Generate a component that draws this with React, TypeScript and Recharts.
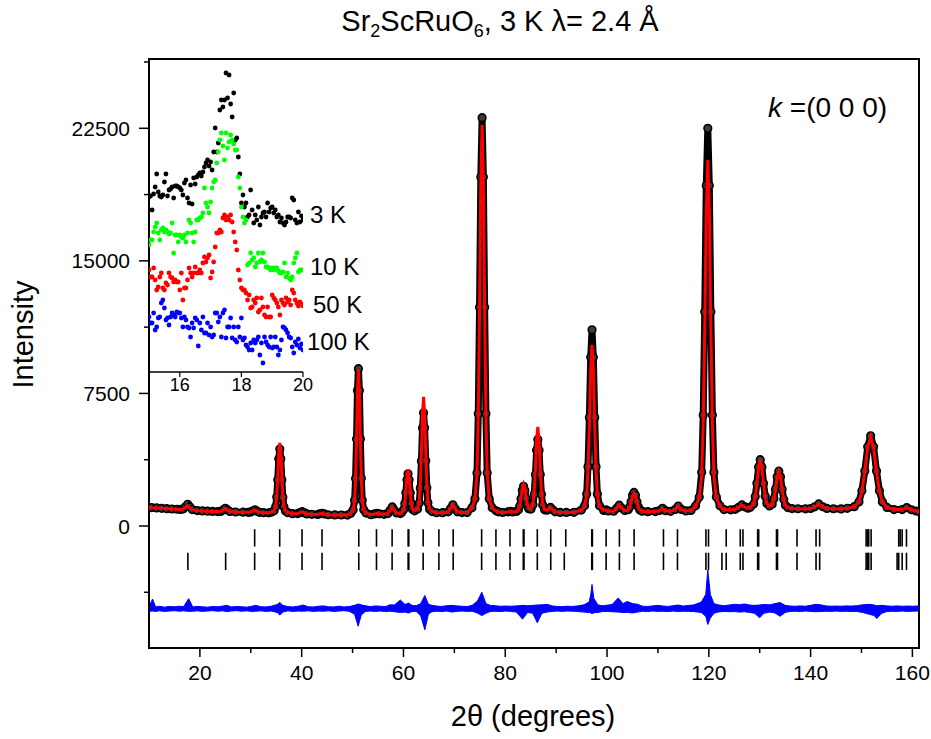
import React from 'react';
import {
  ComposedChart,
  ScatterChart,
  Line,
  Area,
  Scatter,
  XAxis,
  YAxis,
  ReferenceArea,
} from 'recharts';

// 2theta, observed, calculated
const profile: [number, number, number][] = [
  [10, 1060, 1055], [10.5, 1040, 1036], [11.5, 1020, 1018], [12.5, 1000, 998],
  [13.5, 980, 979], [14.5, 962, 960], [15.5, 948, 946], [16.2, 938, 935],
  [16.7, 961, 953], [17.15, 1090, 1047], [17.6, 1230, 1150], [18.05, 1080, 1037],
  [18.5, 931, 923], [19.5, 872, 870], [20.5, 852, 850], [21.5, 838, 836],
  [22.5, 825, 824], [23.5, 815, 814], [24.1, 827, 826], [24.55, 911, 908],
  [25.0, 1000, 995], [25.45, 908, 905], [25.9, 819, 818], [27.0, 793, 792],
  [28.5, 782, 781], [29.5, 774, 773], [29.9, 785, 784], [30.35, 845, 843],
  [30.8, 910, 905], [31.25, 841, 839], [31.7, 776, 775], [32.5, 756, 756],
  [33.5, 748, 747], [34.1, 787, 792], [34.58, 867, 879], [34.9, 1100, 1135],
  [35.1, 1640, 1728], [35.3, 2615, 2797], [35.5, 3808, 4105], [35.7, 4350, 4700],
  [35.9, 3806, 4103], [36.1, 2611, 2793], [36.3, 1632, 1720], [36.5, 1088, 1123],
  [36.82, 847, 859], [37.3, 755, 760], [38.2, 698, 697], [39.2, 701, 700],
  [39.65, 754, 752], [40.1, 810, 800], [40.55, 746, 744], [41.0, 683, 682],
  [42.0, 660, 660], [43.1, 651, 650], [43.55, 688, 686], [44.0, 720, 715],
  [44.45, 681, 680], [45.2, 636, 636], [46.5, 628, 628], [47.8, 621, 621],
  [49.0, 620, 620], [49.65, 719, 719], [50.1, 912, 910], [50.4, 1451, 1446],
  [50.59, 2693, 2680], [50.78, 4927, 4901], [50.96, 7659, 7616], [51.15, 8900, 8850],
  [51.34, 7660, 7618], [51.53, 4929, 4903], [51.72, 2696, 2683], [51.9, 1455, 1450],
  [52.2, 919, 917], [52.65, 731, 730], [53.6, 638, 638], [54.35, 683, 682],
  [54.8, 718, 716], [55.25, 690, 689], [56.2, 662, 662], [56.95, 713, 711],
  [57.37, 885, 875], [57.8, 1080, 1060], [58.23, 896, 886], [58.65, 736, 734],
  [59.4, 704, 704], [59.71, 785, 792], [60.05, 934, 954], [60.26, 1271, 1321],
  [60.47, 1875, 1979], [60.69, 2614, 2784], [60.9, 2950, 3150], [61.11, 2616, 2786],
  [61.33, 1879, 1983], [61.54, 1278, 1328], [61.75, 946, 966], [62.2, 857, 873],
  [62.76, 955, 989], [63.1, 1302, 1392], [63.31, 2152, 2377], [63.53, 3681, 4149],
  [63.74, 5550, 6315], [63.95, 6400, 7300], [64.16, 5552, 6317], [64.38, 3685, 4153],
  [64.59, 2158, 2383], [64.8, 1310, 1400], [65.14, 943, 975], [65.65, 815, 826],
  [66.5, 751, 751], [67.7, 755, 755], [68.8, 802, 804], [69.25, 988, 998],
  [69.7, 1200, 1220], [70.15, 989, 999], [70.6, 804, 806], [71.5, 760, 760],
  [72.5, 760, 760], [73.45, 1030, 1025], [74.05, 1544, 1530], [74.45, 2996, 2956],
  [74.7, 6347, 6247], [74.95, 12378, 12170], [75.2, 19749, 19409], [75.45, 23100, 22700],
  [75.7, 19749, 19409], [75.95, 12378, 12170], [76.2, 6347, 6247], [76.45, 2996, 2956],
  [76.85, 1544, 1530], [77.45, 1030, 1025], [78.2, 860, 855], [78.65, 800, 798],
  [79.5, 765, 764], [80.55, 800, 798], [81.0, 833, 828], [81.45, 798, 796],
  [82.2, 820, 823], [82.6, 916, 926], [82.85, 1138, 1164], [83.1, 1539, 1591],
  [83.35, 2028, 2113], [83.6, 2250, 2350], [83.85, 2028, 2113], [84.1, 1539, 1591],
  [84.35, 1179, 1212], [84.6, 974, 993], [85.07, 959, 986], [85.45, 1205, 1277],
  [85.69, 1803, 1978], [85.93, 2918, 3282], [86.16, 4281, 4876], [86.4, 4900, 5600],
  [86.64, 4281, 4876], [86.88, 2918, 3282], [87.11, 1803, 1978], [87.35, 1183, 1253],
  [87.73, 915, 939], [88.2, 897, 905], [88.45, 930, 935], [88.9, 1050, 1050],
  [89.35, 920, 918], [89.8, 800, 800], [90.8, 770, 770], [92.0, 770, 770],
  [93.5, 772, 772], [94.95, 902, 892], [95.58, 1139, 1110], [96.0, 1810, 1725],
  [96.26, 3359, 3146], [96.53, 6145, 5703], [96.79, 9552, 8829], [97.05, 11100, 10250],
  [97.31, 9552, 8829], [97.58, 6145, 5703], [97.84, 3359, 3146], [98.1, 1810, 1725],
  [98.52, 1139, 1110], [99.35, 880, 876], [99.8, 920, 915], [100.25, 850, 848],
  [101.3, 834, 832], [101.85, 995, 990], [102.4, 1180, 1190], [102.95, 998, 1000],
  [103.5, 870, 872], [104.15, 918, 913], [104.44, 1075, 1063], [104.72, 1372, 1346],
  [105.01, 1735, 1693], [105.3, 1900, 1850], [105.59, 1735, 1693], [105.88, 1372, 1346],
  [106.16, 1075, 1063], [106.45, 910, 905], [106.9, 838, 836], [108.0, 810, 810],
  [109.5, 815, 815], [110.3, 870, 866], [110.9, 1000, 990], [111.5, 868, 864],
  [112.5, 830, 830], [113.4, 935, 930], [114.0, 1130, 1130], [114.6, 940, 938],
  [115.5, 855, 855], [116.5, 880, 878], [117.4, 1139, 1118], [118.12, 1637, 1574],
  [118.6, 3042, 2862], [118.9, 6285, 5835], [119.2, 12122, 11186], [119.5, 19257, 17727],
  [119.8, 22500, 20700], [120.1, 19257, 17727], [120.4, 12122, 11186], [120.7, 6285, 5835],
  [121.0, 3042, 2862], [121.48, 1637, 1574], [122.2, 1139, 1118], [123.0, 930, 928],
  [124.3, 915, 913], [125.2, 945, 942], [125.85, 1060, 1055], [126.5, 1190, 1170],
  [127.15, 1080, 1070], [127.7, 1010, 1005], [128.15, 1060, 1055], [128.8, 1240, 1235],
  [129.12, 1665, 1655], [129.45, 2420, 2405], [129.78, 3340, 3320], [130.1, 3750, 3730],
  [130.43, 3340, 3320], [130.75, 2420, 2405], [131.08, 1690, 1680], [131.4, 1280, 1275],
  [131.92, 1135, 1130], [132.45, 1225, 1220], [132.78, 1535, 1525], [133.1, 2085, 2070],
  [133.43, 2790, 2765], [133.75, 3100, 3070], [134.08, 2790, 2765], [134.4, 2085, 2070],
  [134.73, 1500, 1490], [135.05, 1175, 1170], [135.57, 1035, 1035], [136.35, 985, 985],
  [137.5, 975, 972], [139.0, 970, 968], [140.0, 990, 988], [140.8, 1085, 1080],
  [141.6, 1250, 1240], [142.4, 1090, 1085], [143.2, 995, 992], [144.5, 975, 975],
  [146.0, 965, 965], [147.2, 1000, 999], [148.58, 1095, 1094], [149.5, 1365, 1360],
  [150.08, 1988, 1975], [150.65, 3108, 3082], [151.22, 4478, 4435], [151.8, 5100, 5050],
  [152.38, 4478, 4435], [152.95, 3108, 3082], [153.52, 1988, 1975], [154.1, 1365, 1360],
  [155.02, 1050, 1048], [156.4, 930, 930], [158.0, 930, 928], [158.9, 1040, 1035],
  [159.8, 920, 918], [160.7, 850, 850], [161.3, 820, 820],
];

// reflection positions, two phases
const braggPhase1 = [
  30.76, 35.68, 40.07, 44.0, 51.22, 54.7, 57.77, 60.92, 61.05, 63.87, 66.96, 69.77,
  75.36, 78.17, 80.93, 83.55, 83.68, 86.3, 88.94, 91.89, 97.0, 97.12, 99.82, 102.43,
  105.32, 111.09, 113.84, 119.43, 119.94, 123.42, 126.18, 126.71, 129.6, 129.8,
  133.3, 133.5, 137.33, 141.07, 141.78, 150.91, 151.2, 151.42, 151.89, 157.32,
  157.6, 157.99, 158.84,
];
const braggPhase2 = [
  17.64, 25.06, 30.76, 35.68, 40.07, 44.0, 51.22, 54.7, 57.77, 60.92, 61.05, 63.87,
  66.96, 69.77, 75.36, 78.17, 80.93, 83.55, 83.68, 86.3, 88.94, 91.6, 97.0, 97.12,
  99.82, 102.43, 105.32, 111.09, 113.84, 119.43, 119.94, 122.58, 123.42, 126.18,
  126.71, 129.6, 129.8, 133.3, 133.5, 137.33, 141.07, 141.78, 150.91, 151.2,
  151.42, 151.89, 157.0, 157.32, 157.99, 158.84,
];

// obs - calc envelope: 2theta, low, high
const diffEnvelope: [number, number, number][] = [
  [10, -130, 120], [10.7, -120, 560], [11.3, -140, 110], [12, -110, 150],
  [13, -140, 100], [14, -120, 140], [15, -100, 120], [16, -130, 150],
  [16.8, -110, 130], [17.8, -140, 580], [18.6, -130, 110], [19.5, -110, 140],
  [20.5, -140, 120], [21.5, -120, 100], [22.5, -100, 140], [23.5, -130, 120],
  [24.5, -110, 160], [25.3, -150, 200], [26.2, -120, 110], [27.2, -100, 140],
  [28.2, -130, 120], [29.2, -110, 100], [30.2, -140, 150], [31, -130, 200],
  [32, -110, 120], [33, -140, 110], [34, -120, 150], [35.2, -200, 250],
  [35.7, -350, 360], [36.3, -180, 200], [37.3, -110, 130], [38.3, -140, 110],
  [39.3, -120, 150], [40.3, -130, 220], [41.3, -110, 120], [42.3, -140, 110],
  [43.3, -120, 150], [44.3, -130, 170], [45.3, -110, 120], [46.3, -140, 110],
  [47.3, -120, 150], [48.3, -100, 110], [49.3, -130, 130], [50.4, -300, 200],
  [51.1, -980, 280], [51.7, -350, 230], [52.5, -150, 180], [53.5, -120, 130],
  [54.5, -140, 170], [55.5, -120, 150], [56.5, -150, 130], [57.3, -130, 230],
  [58.2, -160, 220], [59.4, -200, 500], [60.3, -180, 250], [61, -230, 330],
  [61.7, -150, 200], [62.5, -140, 180], [63.4, -400, 300], [64.2, -1180, 760],
  [64.9, -300, 260], [65.6, -160, 200], [66.5, -130, 160], [67.5, -150, 140],
  [68.5, -120, 180], [69.5, -180, 200], [70.5, -140, 170], [71.5, -120, 150],
  [72.5, -140, 130], [73.5, -130, 200], [74.5, -230, 430], [75.4, -380, 940],
  [76.2, -250, 300], [77, -150, 200], [78, -130, 180], [79, -150, 150],
  [80, -120, 160], [81, -140, 150], [82.2, -180, 170], [83.4, -580, 200],
  [84.4, -200, 180], [85.4, -250, 200], [86.3, -780, 220], [87.2, -250, 230],
  [88.2, -180, 260], [89.2, -140, 170], [90.2, -120, 140], [91.2, -140, 130],
  [92.2, -120, 150], [93.2, -130, 140], [94.2, -150, 170], [95.5, -180, 230],
  [96.5, -200, 400], [96.8, -220, 800], [97.05, -280, 1380], [97.4, -220, 600],
  [98.2, -200, 230], [99.1, -150, 180], [100, -140, 210], [101, -160, 250],
  [102.2, -180, 620], [103.1, -200, 300], [104, -200, 420], [105, -230, 300],
  [106, -180, 260], [107, -130, 150], [108, -150, 140], [109, -120, 170],
  [110, -140, 200], [111, -130, 160], [112, -150, 140], [113, -120, 180],
  [114, -150, 220], [115, -130, 160], [116, -140, 200], [117, -150, 220],
  [118.5, -200, 380], [119.4, -420, 820], [119.8, -880, 2200], [120.3, -520, 820],
  [121, -250, 300], [121.8, -180, 230], [123, -140, 180], [124, -160, 220],
  [125, -150, 260], [126, -180, 240], [127, -160, 280], [128, -200, 220],
  [129, -250, 200], [130, -500, 220], [130.8, -250, 250], [132, -180, 230],
  [133, -230, 300], [134, -420, 360], [135, -200, 200], [136, -140, 160],
  [137, -130, 150], [138, -150, 170], [139, -120, 150], [140, -140, 200],
  [141, -160, 260], [142, -150, 230], [143, -130, 170], [144, -140, 150],
  [145, -120, 160], [146, -140, 150], [147, -130, 170], [148, -150, 160],
  [149, -140, 180], [150.2, -200, 230], [151.5, -300, 260], [152.5, -380, 220],
  [153, -540, 180], [154, -250, 200], [155, -150, 170], [156, -130, 150],
  [157, -140, 170], [158, -120, 150], [159, -140, 160], [160, -130, 150],
  [161.3, -120, 170],
];

// inset: 15 to 20 deg in 0.05 deg steps, arbitrary offset intensity
const insetStart = 15;
const insetStep = 0.05;
const inset3K = [
  175, 176, 162, 178, 185, 198, 180, 176, 175, 177,
  190, 198, 176, 182, 183, 185, 174, 186, 186, 185,
  184, 182, 177, 189, 192, 174, 169, 187, 168, 194,
  188, 195, 197, 199, 196, 200, 205, 209, 212, 206,
  210, 202, 220, 244, 220, 229, 262, 272, 265, 272,
  299, 274, 297, 268, 255, 279, 232, 234, 215, 198,
  169, 177, 165, 169, 155, 157, 182, 162, 149, 157,
  152, 165, 147, 155, 159, 160, 155, 169, 160, 164,
  165, 159, 162, 155, 157, 150, 154, 149, 147, 150,
  155, 155, 154, 174, 172, 152, 149, 160, 150, 156, 152,
];
const inset10K = [
  127, 132, 132, 140, 145, 149, 139, 132, 142, 144,
  140, 142, 140, 138, 139, 149, 119, 137, 137, 130,
  137, 135, 134, 137, 130, 139, 152, 149, 139, 130,
  140, 152, 152, 154, 155, 159, 184, 169, 165, 159,
  170, 184, 190, 192, 209, 220, 232, 239, 226, 212,
  239, 224, 230, 237, 232, 228, 222, 222, 195, 184,
  165, 155, 149, 152, 107, 109, 119, 112, 114, 105,
  109, 119, 110, 112, 119, 110, 105, 105, 104, 102,
  104, 102, 104, 104, 101, 99, 99, 100, 109, 95,
  99, 94, 92, 95, 109, 114, 119, 100, 102, 102, 102,
];
const inset50K = [
  102, 95, 95, 104, 92, 82, 85, 95, 99, 84,
  82, 89, 87, 99, 95, 94, 90, 92, 90, 90,
  82, 99, 72, 84, 84, 92, 104, 99, 95, 99,
  105, 99, 99, 102, 99, 109, 115, 110, 114, 117,
  94, 100, 110, 125, 139, 139, 142, 140, 154, 157,
  152, 155, 152, 157, 150, 140, 130, 122, 102, 92,
  84, 82, 82, 79, 72, 77, 64, 65, 72, 69,
  74, 60, 62, 74, 65, 57, 55, 65, 55, 55,
  77, 74, 72, 69, 65, 57, 72, 69, 67, 74,
  70, 72, 67, 82, 79, 72, 69, 66, 70, 68, 66,
];
const inset100K = [
  55, 49, 49, 59, 42, 45, 54, 55, 69, 72,
  64, 52, 54, 47, 55, 59, 57, 55, 60, 59,
  59, 54, 45, 55, 52, 45, 44, 35, 49, 44,
  54, 52, 26, 49, 42, 55, 39, 39, 49, 37,
  45, 35, 37, 59, 59, 50, 55, 35, 59, 62,
  34, 45, 45, 54, 34, 45, 32, 30, 45, 35,
  54, 32, 34, 27, 25, 22, 29, 22, 32, 29,
  32, 35, 17, 29, 9, 35, 30, 27, 25, 35,
  24, 25, 35, 25, 17, 22, 32, 45, 44, 42,
  39, 35, 34, 25, 19, 30, 27, 33, 24, 28, 22,
];

const xTicks = [20, 30, 40, 50, 60, 70, 80, 90, 100, 110, 120, 130, 140, 150, 160];
const xMajor = [20, 40, 60, 80, 100, 120, 140, 160];
const yTicks = [-3750, 0, 3750, 7500, 11250, 15000, 18750, 22500, 26250];
const yMajor = [0, 7500, 15000, 22500];
const insetTicks = [16, 18, 20];

const X_DOMAIN: [number, number] = [10, 161.3];
const Y_DOMAIN: [number, number] = [-6902, 26420];
const DIFF_OFFSET = -4690;
const BRAGG_LEVEL_1 = -673;
const BRAGG_LEVEL_2 = -2003;
// plot box: left 149, top 59, right 919, bottom 648
const MARGIN = { top: 59, right: 12, bottom: 51, left: 89 };
const OVERLAY_MARGIN = { top: 59, right: 12, bottom: 91, left: 149 };

const FONT = '"Liberation Sans", Arial, Helvetica, sans-serif';

const obsData = profile.map(([tth, obs, calc]) => ({ tth, obs, calc }));
const diffData = diffEnvelope.map(([tth, lo, hi]) => ({
  tth,
  band: [lo + DIFF_OFFSET, hi + DIFF_OFFSET],
}));
const bragg1Data = braggPhase1.map((tth) => ({ tth, level: BRAGG_LEVEL_1 }));
const bragg2Data = braggPhase2.map((tth) => ({ tth, level: BRAGG_LEVEL_2 }));
const toInset = (vals: number[]) =>
  vals.map((v, i) => ({ tth: +(insetStart + i * insetStep).toFixed(2), v }));

const MainXTick = (props: any) => {
  const { x, y, payload } = props;
  const major = xMajor.includes(payload.value);
  return (
    <g>
      <line x1={x} x2={x} y1={y} y2={y + (major ? 9 : 5)} stroke="#000" strokeWidth={1.5} />
      {major && (
        <text x={x} y={y + 31.5} textAnchor="middle" fontSize={21} fontFamily={FONT} fill="#000">
          {payload.value}
        </text>
      )}
    </g>
  );
};

const MainYTick = (props: any) => {
  const { x, y, payload } = props;
  const major = yMajor.includes(payload.value);
  return (
    <g>
      <line x1={x} x2={x - (major ? 10 : 5)} y1={y} y2={y} stroke="#000" strokeWidth={1.5} />
      {major && (
        <text x={x - 19} y={y + 7.5} textAnchor="end" fontSize={21} fontFamily={FONT} fill="#000">
          {payload.value}
        </text>
      )}
    </g>
  );
};

const InsetXTick = (props: any) => {
  const { x, y, payload } = props;
  return (
    <g>
      <line x1={x} x2={x} y1={y} y2={y + 5} stroke="#000" strokeWidth={1.2} />
      <text x={x} y={y + 19} textAnchor="middle" fontSize={18} fontFamily={FONT} fill="#000">
        {payload.value}
      </text>
    </g>
  );
};

const BraggMark = (props: any) => (
  <line x1={props.cx} x2={props.cx} y1={props.cy - 8.7} y2={props.cy + 8.7} stroke="#000" strokeWidth={1.6} />
);

const dotShape = (color: string) => (props: any) => (
  <circle cx={props.cx} cy={props.cy} r={2.4} fill={color} />
);

const sub: React.CSSProperties = { fontSize: '0.62em', verticalAlign: '-0.32em', lineHeight: 0 };
const textBase: React.CSSProperties = { position: 'absolute', fontFamily: FONT, color: '#000', whiteSpace: 'nowrap' };
const layer: React.CSSProperties = { position: 'absolute', left: 0, top: 0, pointerEvents: 'none' };

export default function App() {
  return (
    <div style={{ position: 'absolute', left: 0, top: 0, width: 931, height: 739, background: '#fff' }}>
      <div style={layer}>
        <ComposedChart width={931} height={739} margin={MARGIN}>
          <XAxis
            type="number"
            dataKey="tth"
            domain={X_DOMAIN}
            allowDataOverflow
            ticks={xTicks}
            interval={0}
            height={40}
            tickSize={0}
            tickMargin={0}
            tickLine={false}
            tick={(p: any) => <MainXTick {...p} />}
            axisLine={{ stroke: '#000', strokeWidth: 2 }}
          />
          <YAxis
            type="number"
            domain={Y_DOMAIN}
            allowDataOverflow
            ticks={yTicks}
            interval={0}
            width={60}
            tickSize={0}
            tickMargin={0}
            tickLine={false}
            tick={(p: any) => <MainYTick {...p} />}
            axisLine={{ stroke: '#000', strokeWidth: 2 }}
          />
          <ReferenceArea
            x1={X_DOMAIN[0]}
            x2={X_DOMAIN[1]}
            y1={Y_DOMAIN[0]}
            y2={Y_DOMAIN[1]}
            fill="none"
            stroke="#000"
            strokeWidth={2}
          />
          <Area
            data={diffData}
            dataKey="band"
            type="linear"
            stroke="#0000ff"
            strokeWidth={1}
            fill="#0000ff"
            fillOpacity={1}
            isAnimationActive={false}
          />
          <Scatter data={bragg1Data} dataKey="level" shape={<BraggMark />} isAnimationActive={false} />
          <Scatter data={bragg2Data} dataKey="level" shape={<BraggMark />} isAnimationActive={false} />
          <Line
            data={obsData}
            dataKey="obs"
            type="linear"
            stroke="#000"
            strokeWidth={7}
            strokeLinejoin="round"
            dot={{ r: 3.8, fill: '#3c3c3c', stroke: '#000', strokeWidth: 1.6 }}
            activeDot={false}
            isAnimationActive={false}
          />
        </ComposedChart>
      </div>

      {/* calculated profile drawn on its own layer so it sits above the observed markers */}
      <div style={layer}>
        <ComposedChart width={931} height={739} margin={OVERLAY_MARGIN}>
          <XAxis type="number" dataKey="tth" domain={X_DOMAIN} allowDataOverflow hide />
          <YAxis type="number" domain={Y_DOMAIN} allowDataOverflow hide />
          <Line
            data={obsData}
            dataKey="calc"
            type="linear"
            stroke="#ff0000"
            strokeWidth={3}
            dot={false}
            activeDot={false}
            isAnimationActive={false}
          />
        </ComposedChart>
      </div>

      <div style={{ ...layer, left: 149, top: 60 }}>
        <ScatterChart width={175} height={340} margin={{ top: 0, right: 21, bottom: 0, left: 0 }} style={{ overflow: 'visible' }}>
          <XAxis
            type="number"
            dataKey="tth"
            domain={[15, 20]}
            allowDataOverflow
            ticks={insetTicks}
            interval={0}
            height={28}
            tickSize={0}
            tickMargin={0}
            tickLine={false}
            tick={(p: any) => <InsetXTick {...p} />}
            axisLine={{ stroke: '#000', strokeWidth: 1.5 }}
          />
          <YAxis type="number" dataKey="v" domain={[0, 312]} hide />
          <Scatter data={toInset(inset3K)} dataKey="v" shape={dotShape('#000000')} isAnimationActive={false} />
          <Scatter data={toInset(inset10K)} dataKey="v" shape={dotShape('#00ff00')} isAnimationActive={false} />
          <Scatter data={toInset(inset50K)} dataKey="v" shape={dotShape('#ff0000')} isAnimationActive={false} />
          <Scatter data={toInset(inset100K)} dataKey="v" shape={dotShape('#0000ff')} isAnimationActive={false} />
        </ScatterChart>
      </div>

      <div style={{ ...textBase, left: 250, top: 7, width: 500, textAlign: 'center', fontSize: 29, lineHeight: '29px' }}>
        Sr<span style={sub}>2</span>ScRuO<span style={sub}>6</span>, 3 K λ= 2.4 Å
      </div>
      <div style={{ ...textBase, left: 768, top: 94, fontSize: 28, lineHeight: '28px' }}>
        <i>k</i> =(0 0 0)
      </div>
      <div style={{ ...textBase, left: 310, top: 203, fontSize: 24, lineHeight: '24px' }}>3 K</div>
      <div style={{ ...textBase, left: 310, top: 255, fontSize: 24, lineHeight: '24px' }}>10 K</div>
      <div style={{ ...textBase, left: 313, top: 293, fontSize: 24, lineHeight: '24px' }}>50 K</div>
      <div style={{ ...textBase, left: 307, top: 330, fontSize: 24, lineHeight: '24px' }}>100 K</div>
      <div
        style={{
          ...textBase,
          left: -77,
          top: 320,
          width: 200,
          textAlign: 'center',
          fontSize: 29,
          lineHeight: '29px',
          transform: 'rotate(-90deg)',
        }}
      >
        Intensity
      </div>
      <div style={{ ...textBase, left: 383, top: 702, width: 300, textAlign: 'center', fontSize: 29, lineHeight: '29px' }}>
        2θ (degrees)
      </div>
    </div>
  );
}
